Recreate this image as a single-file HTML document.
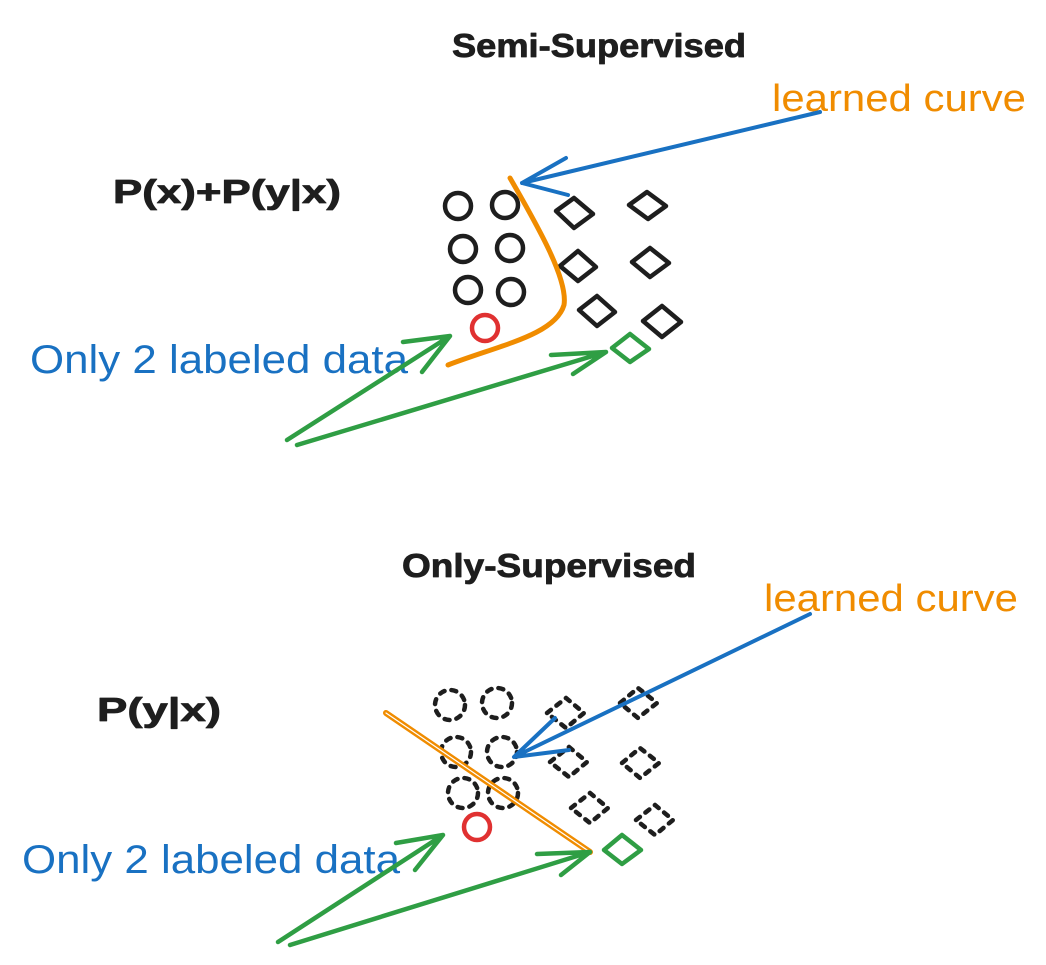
<!DOCTYPE html>
<html><head><meta charset="utf-8"><style>html,body{margin:0;padding:0;background:#fff}svg{display:block}</style></head>
<body>
<svg width="1046" height="965" viewBox="0 0 1046 965" xmlns="http://www.w3.org/2000/svg" font-family="Liberation Sans, sans-serif">
<g fill="none" stroke-linecap="round" stroke-linejoin="round">
<!-- TOP -->
<text x="452" y="57" font-size="33" font-weight="bold" fill="#1e1e1e" stroke="#1e1e1e" stroke-width="0.8" textLength="294" lengthAdjust="spacingAndGlyphs">Semi-Supervised</text>
<text x="772" y="111" font-size="38" fill="#f08c00" stroke="none" textLength="254" lengthAdjust="spacingAndGlyphs">learned curve</text>
<text x="113" y="203" font-size="33" font-weight="bold" fill="#1e1e1e" stroke="#1e1e1e" stroke-width="0.8" textLength="228" lengthAdjust="spacingAndGlyphs">P(x)+P(y|x)</text>
<text x="30" y="373" font-size="40" fill="#1971c2" stroke="none" textLength="378" lengthAdjust="spacingAndGlyphs">Only 2 labeled data</text>
<g stroke="#1e1e1e" stroke-width="4.5">
<circle cx="458" cy="206" r="13"/><circle cx="505" cy="205" r="13"/>
<circle cx="463" cy="249" r="13"/><circle cx="510" cy="248" r="13"/>
<circle cx="468" cy="290" r="13"/><circle cx="511" cy="292" r="13"/>
<path d="M556,211 L574,198 L593,214 L574,228 Z"/>
<path d="M629,205 L647,192 L666,206 L648,219 Z"/>
<path d="M560,266 L578,251 L596,267 L578,281 Z"/>
<path d="M632,262 L650,248 L669,263 L650,277 Z"/>
<path d="M579,310 L597,296 L615,312 L597,326 Z"/>
<path d="M643,321 L662,306 L681,322 L662,337 Z"/>
</g>
<circle cx="485" cy="328" r="13" stroke="#e03131" stroke-width="4.5"/>
<path d="M612,348 L630,334 L649,349 L630,362 Z" stroke="#2f9e44" stroke-width="4.5"/>
<path d="M510,178 C540,230 568,280 564,305 C555,335 500,345 448,365" stroke="#f08c00" stroke-width="5"/>
<g stroke="#1971c2" stroke-width="4"><path d="M820,112 L522,183 M566,158 L522,183 L568,195"/></g>
<g stroke="#2f9e44" stroke-width="4.5"><path d="M287,440 L450,336 M403,342 L450,336 L422,372 M297,445 L606,352 M551,355 L606,352 L573,374"/></g>
<!-- BOTTOM -->
<text x="402" y="577" font-size="33" font-weight="bold" fill="#1e1e1e" stroke="#1e1e1e" stroke-width="0.8" textLength="294" lengthAdjust="spacingAndGlyphs">Only-Supervised</text>
<text x="764" y="611" font-size="38" fill="#f08c00" stroke="none" textLength="254" lengthAdjust="spacingAndGlyphs">learned curve</text>
<text x="97" y="721" font-size="33" font-weight="bold" fill="#1e1e1e" stroke="#1e1e1e" stroke-width="0.8" textLength="124" lengthAdjust="spacingAndGlyphs">P(y|x)</text>
<text x="22" y="873" font-size="40" fill="#1971c2" stroke="none" textLength="378" lengthAdjust="spacingAndGlyphs">Only 2 labeled data</text>
<g stroke="#1e1e1e" stroke-width="4.5" stroke-dasharray="5 7">
<circle cx="450" cy="705" r="15"/><circle cx="497" cy="703" r="15"/>
<circle cx="456" cy="752" r="15"/><circle cx="502" cy="752" r="15"/>
<circle cx="463" cy="793" r="15"/><circle cx="503" cy="793" r="15"/>
<path d="M547,713 L566,698 L584,713 L566,728 Z"/>
<path d="M620,703 L638,688 L657,703 L638,718 Z"/>
<path d="M550,762 L569,747 L587,762 L569,777 Z"/>
<path d="M622,763 L640,748 L659,763 L640,778 Z"/>
<path d="M571,808 L590,793 L608,808 L590,823 Z"/>
<path d="M636,820 L655,805 L673,820 L655,835 Z"/>
</g>
<circle cx="477" cy="827" r="13" stroke="#e03131" stroke-width="4.5"/>
<path d="M604,850 L622,835 L641,850 L622,864 Z" stroke="#2f9e44" stroke-width="4.5"/>
<path d="M386,713 L590,852" stroke="#f08c00" stroke-width="6"/>
<path d="M386,713 L590,852" stroke="#fff" stroke-width="1.2"/>
<g stroke="#1971c2" stroke-width="4"><path d="M810,614 L514,757 M555,718 L514,757 L569,750"/></g>
<g stroke="#2f9e44" stroke-width="4.5"><path d="M278,942 L443,835 M396,843 L443,835 L415,870 M290,945 L590,852 M537,854 L590,852 L561,875"/></g>
</g>
</svg>
</body></html>
